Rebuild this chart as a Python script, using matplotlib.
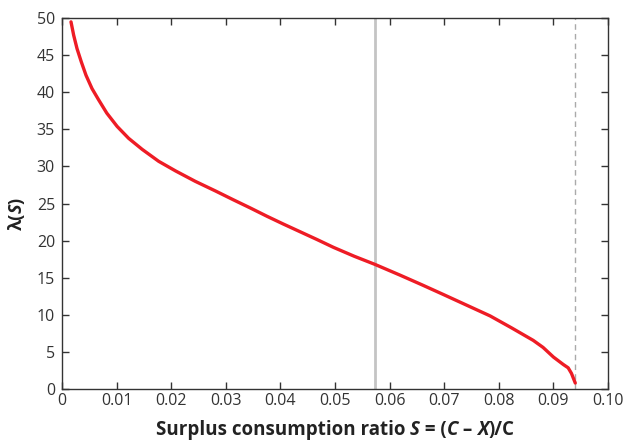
import matplotlib
matplotlib.use("Agg")
import matplotlib.pyplot as plt
from matplotlib.offsetbox import TextArea, HPacker, AnnotationBbox

# surplus consumption ratio S and sensitivity function lambda(S)
s_vals = [0.00165, 0.00214, 0.00275, 0.00354, 0.0044, 0.0055, 0.0067,
          0.0082, 0.0101, 0.0122, 0.0147, 0.0177, 0.0208, 0.0244, 0.0281,
          0.0314, 0.0345, 0.0375, 0.0405, 0.0436, 0.0467, 0.0497, 0.0535,
          0.0573, 0.0619, 0.0659, 0.0698, 0.0741, 0.0784, 0.0823, 0.0863,
          0.0881, 0.0900, 0.0918, 0.0927, 0.0933, 0.0940]
lam_vals = [49.5, 47.7, 45.9, 44.1, 42.3, 40.5, 39.0,
            37.2, 35.4, 33.8, 32.3, 30.7, 29.4, 28.0, 26.7,
            25.5, 24.4, 23.3, 22.25, 21.2, 20.15, 19.1, 17.9,
            16.8, 15.35, 14.05, 12.75, 11.3, 9.85, 8.25, 6.55,
            5.6, 4.3, 3.3, 2.85, 2.1, 0.8]
s_steady = 0.0573   # steady-state surplus ratio
s_max = 0.094       # upper bound of S

xticks = [0, 0.01, 0.02, 0.03, 0.04, 0.05, 0.06, 0.07, 0.08, 0.09, 0.10]
xticklabels = ['0', '0.01', '0.02', '0.03', '0.04', '0.05', '0.06', '0.07',
               '0.08', '0.09', '0.10']
yticks = [0, 5, 10, 15, 20, 25, 30, 35, 40, 45, 50]

plt.rcParams['font.family'] = ['Open Sans', 'DejaVu Sans']
LABEL_COLOR = '#222222'

fig = plt.figure(figsize=(6.23, 4.43), dpi=100)
ax = fig.add_axes([0.0995, 0.122, 0.8765, 0.837])

ax.axvline(s_steady, color='#c4c4c4', linewidth=2.0, zorder=1)
ax.axvline(s_max, color='#aaaaaa', linewidth=1.0, linestyle=(0, (4, 3)), zorder=1)
ax.plot(s_vals, lam_vals, color='#ee1c25', linewidth=2.4, zorder=3,
        solid_capstyle='round', solid_joinstyle='round')

ax.set_xlim(0, 0.10)
ax.set_ylim(0, 50)
ax.set_xticks(xticks)
ax.set_xticklabels(xticklabels)
ax.set_yticks(yticks)

for sp in ax.spines.values():
    sp.set_color('#333333')
    sp.set_linewidth(1.0)
ax.tick_params(direction='in', length=5, width=1, color='#333333',
               top=True, right=True, labelsize=11.5, labelcolor='#333333')
ax.tick_params(axis='x', pad=3)
ax.tick_params(axis='y', pad=5)


def rich_label(parts, size):
    # bold label with some italic symbols, packed on one baseline
    boxes = []
    for txt, italic in parts:
        boxes.append(TextArea(txt, textprops=dict(
            fontweight='bold', fontsize=size, color=LABEL_COLOR,
            fontstyle='italic' if italic else 'normal')))
    return HPacker(children=boxes, align='baseline', pad=0, sep=0)


xpack = rich_label([('Surplus consumption ratio ', False), ('S', True),
                    (' = (', False), ('C', True), (' – ', False),
                    ('X', True), (')/C', False)], 13.5)
ab = AnnotationBbox(xpack, (0.5, -0.085), xycoords='axes fraction',
                    box_alignment=(0.5, 1.0), frameon=False)
ax.add_artist(ab)

# rotated y label "λ(S)", stacked piece by piece
fig.canvas.draw()
r = fig.canvas.get_renderer()
y_pos = 0.48
for txt, italic in [('λ(', False), ('S', True), (')', False)]:
    t = fig.text(0.027, y_pos, txt, rotation=90, fontsize=13, fontweight='bold',
                 fontstyle='italic' if italic else 'normal',
                 color=LABEL_COLOR, ha='center', va='bottom')
    y_pos = t.get_window_extent(r).y1 / fig.bbox.height

fig.savefig('out.png', dpi=100)
